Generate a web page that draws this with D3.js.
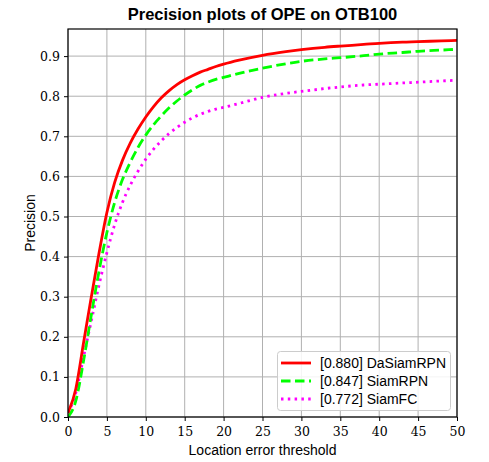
<!DOCTYPE html>
<html>
<head>
<meta charset="utf-8">
<script src="https://cdn.jsdelivr.net/npm/d3@7"></script>
<style>
body{margin:0;background:#fff;}
svg{display:block;}
</style>
</head>
<body>
<svg id="chart" width="489" height="462"></svg>
<script>
const thresholds = [0,1,2,3,4,5,6,7,8,9,10,11,12,13,14,15,16,17,18,19,20,22,25,28,30,33,35,38,40,43,45,48,50];
const daSiamRPN = [0.01,0.07,0.185,0.30,0.41,0.51,0.585,0.64,0.683,0.718,0.748,0.774,0.796,0.814,0.829,0.841,0.851,0.860,0.867,0.874,0.880,0.890,0.902,0.911,0.916,0.922,0.925,0.929,0.932,0.935,0.936,0.938,0.939];
const siamRPN   = [0.0,0.04,0.14,0.255,0.365,0.46,0.535,0.592,0.635,0.672,0.703,0.729,0.751,0.771,0.788,0.803,0.816,0.827,0.835,0.842,0.847,0.857,0.870,0.881,0.887,0.893,0.896,0.901,0.905,0.909,0.912,0.915,0.917];
const siamFC    = [0.01,0.06,0.15,0.24,0.33,0.41,0.48,0.535,0.578,0.613,0.643,0.668,0.689,0.707,0.722,0.735,0.746,0.755,0.762,0.768,0.772,0.782,0.797,0.807,0.812,0.819,0.823,0.828,0.830,0.833,0.835,0.838,0.840];
const seriesNames = ["[0.880] DaSiamRPN","[0.847] SiamRPN","[0.772] SiamFC"];
const seriesColors = ["#ff0000","#00ff00","#ff00ff"];
const xTicks = [0,5,10,15,20,25,30,35,40,45,50];
const yTicks = [0.0,0.1,0.2,0.3,0.4,0.5,0.6,0.7,0.8,0.9];
const titleText = "Precision plots of OPE on OTB100";
const xLabel = "Location error threshold";
const yLabel = "Precision";

const svg = d3.select("#chart");
const L = 68, R = 457, T = 29, B = 417;
const x = d3.scaleLinear().domain([0,50]).range([L,R]);
const y = d3.scaleLinear().domain([0,0.9676]).range([B,T]);

// grid
const g = svg.append("g");
g.selectAll(".vg").data(xTicks).enter().append("line")
  .attr("x1",d=>x(d)).attr("x2",d=>x(d)).attr("y1",T).attr("y2",B)
  .attr("stroke","#b0b0b0").attr("stroke-width",1);
g.selectAll(".hg").data(yTicks).enter().append("line")
  .attr("x1",L).attr("x2",R).attr("y1",d=>y(d)).attr("y2",d=>y(d))
  .attr("stroke","#b0b0b0").attr("stroke-width",1);

// lines
const allSeries = [daSiamRPN, siamRPN, siamFC];
const dashes = [null, "9.5,4.5", "2.5,4.3"];
const widths = [2.8, 2.8, 2.8];
const line = d3.line().x((d,i)=>x(thresholds[i])).y(d=>y(d)).curve(d3.curveMonotoneX);
svg.append("clipPath").attr("id","clp").append("rect")
  .attr("x",L).attr("y",T).attr("width",R-L).attr("height",B-T);
[2,1,0].forEach(k=>{
  svg.append("path").datum(allSeries[k])
    .attr("d",line).attr("fill","none")
    .attr("stroke",seriesColors[k]).attr("stroke-width",widths[k])
    .attr("stroke-dasharray",dashes[k]).attr("clip-path","url(#clp)");
});

// axes
const tickFont = "'DejaVu Serif', 'Liberation Serif', serif";
const xa = svg.append("g").attr("transform",`translate(0,${B})`)
  .call(d3.axisBottom(x).tickValues(xTicks).tickSize(4).tickPadding(6).tickFormat(d3.format("d")));
const ya = svg.append("g").attr("transform",`translate(${L},0)`)
  .call(d3.axisLeft(y).tickValues(yTicks).tickSize(4).tickPadding(4).tickFormat(d3.format(".1f")));
[xa,ya].forEach(a=>{
  a.select(".domain").remove();
  a.selectAll("text").attr("font-family",tickFont).attr("font-size",12.5).attr("fill","#000");
  a.selectAll("line").attr("stroke","#000");
});

// frame
svg.append("rect").attr("x",L).attr("y",T).attr("width",R-L).attr("height",B-T)
  .attr("fill","none").attr("stroke","#000").attr("stroke-width",1.2);

const sans = "'Liberation Sans', Arial, Helvetica, sans-serif";
svg.append("text").attr("x",(L+R)/2).attr("y",20).attr("text-anchor","middle")
  .attr("font-family",sans).attr("font-weight","bold").attr("font-size",16.5).text(titleText);
svg.append("text").attr("x",(L+R)/2).attr("y",455).attr("text-anchor","middle")
  .attr("font-family",sans).attr("font-size",14).text(xLabel);
svg.append("text").attr("transform",`translate(35,${(T+B)/2}) rotate(-90)`).attr("text-anchor","middle")
  .attr("font-family",sans).attr("font-size",14).text(yLabel);

// legend
const lg = svg.append("g");
lg.append("rect").attr("x",277.5).attr("y",351.5).attr("width",173).attr("height",59).attr("rx",3)
  .attr("fill","#fff").attr("fill-opacity",0.85).attr("stroke","#cccccc").attr("stroke-width",1);
seriesNames.forEach((nm,i)=>{
  const yy = 363 + i*18;
  lg.append("line").attr("x1",281).attr("x2",311).attr("y1",yy).attr("y2",yy)
    .attr("stroke",seriesColors[i]).attr("stroke-width",widths[i]).attr("stroke-dasharray",dashes[i]);
  lg.append("text").attr("x",320).attr("y",yy+5).attr("font-family",sans).attr("font-size",14).text(nm);
});
</script>
</body>
</html>
